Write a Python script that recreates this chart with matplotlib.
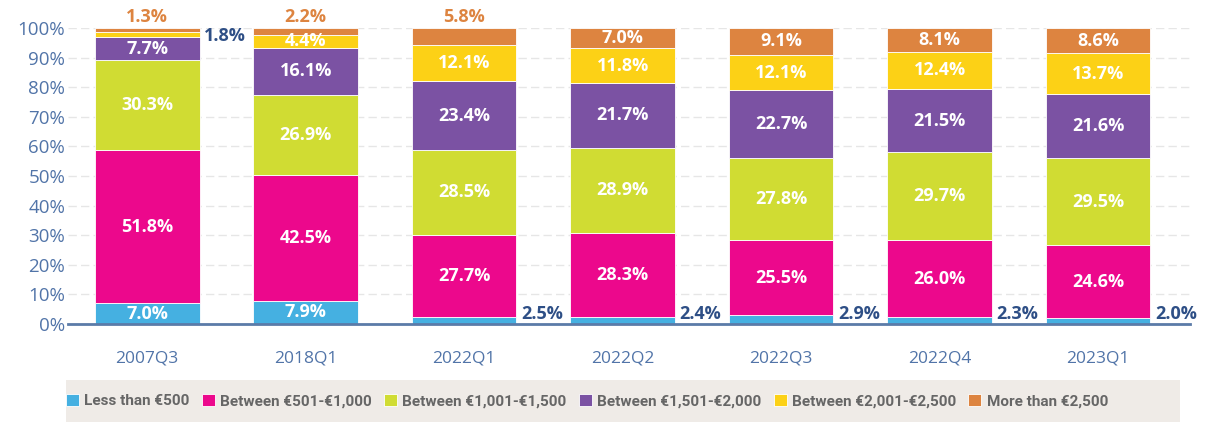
import numpy as np
import matplotlib.pyplot as plt
from matplotlib.patches import Rectangle

plt.rcParams['font.family'] = ['Open Sans', 'DejaVu Sans']

# quarters on the x axis
quarters = ['2007Q3', '2018Q1', '2022Q1', '2022Q2', '2022Q3', '2022Q4', '2023Q1']

# share of each band, bottom to top
less_500 = [7.0, 7.9, 2.5, 2.4, 2.9, 2.3, 2.0]
b501_1000 = [51.8, 42.5, 27.7, 28.3, 25.5, 26.0, 24.6]
b1001_1500 = [30.3, 26.9, 28.5, 28.9, 27.8, 29.7, 29.5]
b1501_2000 = [7.7, 16.1, 23.4, 21.7, 22.7, 21.5, 21.6]
b2001_2500 = [1.8, 4.4, 12.1, 11.8, 12.1, 12.4, 13.7]
more_2500 = [1.3, 2.2, 5.8, 7.0, 9.1, 8.1, 8.6]

series_names = ['Less than €500', 'Between €501-€1,000', 'Between €1,001-€1,500',
                'Between €1,501-€2,000', 'Between €2,001-€2,500', 'More than €2,500']
series = [less_500, b501_1000, b1001_1500, b1501_2000, b2001_2500, more_2500]
colors = ['#45B0E1', '#EC088C', '#D0DC33', '#7B52A3', '#FCD116', '#DD8440']

tick_col = '#5174A8'
dark_lab = '#2E4F86'

fig = plt.figure(figsize=(12.05, 4.23), dpi=100)
ax = fig.add_axes([68 / 1205, 1 - 324 / 423, 1122 / 1205, 296 / 423])

x = np.arange(len(quarters))
width = 0.66
bottom = np.zeros(len(quarters))
for vals, name, col in zip(series, series_names, colors):
    vals = np.array(vals)
    ax.bar(x, vals, width, bottom=bottom, color=col, label=name,
           edgecolor='white', linewidth=0.6, zorder=3)
    for i, v in enumerate(vals):
        mid = bottom[i] + v / 2
        top = bottom[i] + v
        if col == '#45B0E1' and v < 5:
            # small bottom values go to the right of the bar
            ax.text(x[i] + width / 2 + 0.03, 0.2, f'{v:.1f}%', color=dark_lab,
                    fontsize=13, fontweight='bold', ha='left', va='bottom', zorder=4)
        elif col == '#FCD116' and v < 3:
            ax.text(x[i] + width / 2 + 0.03, mid - 0.5, f'{v:.1f}%', color=dark_lab,
                    fontsize=13, fontweight='bold', ha='left', va='center', zorder=4)
        elif col == '#DD8440' and v < 6:
            ax.text(x[i], top + 0.8, f'{v:.1f}%', color=col, fontsize=13,
                    fontweight='bold', ha='center', va='bottom', clip_on=False, zorder=4)
        else:
            ax.text(x[i], mid, f'{v:.1f}%', color='white', fontsize=13,
                    fontweight='bold', ha='center', va='center', zorder=4)
    bottom = bottom + vals

ax.set_ylim(0, 100)
ax.set_xlim(-0.5, 6.58)
ax.set_yticks(np.arange(0, 101, 10))
ax.set_yticklabels([f'{t}%' for t in range(0, 101, 10)])
ax.set_xticks(x)
ax.set_xticklabels(quarters)
ax.tick_params(axis='both', length=0, colors=tick_col, labelsize=12.5)
ax.tick_params(axis='y', labelsize=13.5, pad=2)
ax.tick_params(axis='x', pad=19)
ax.yaxis.grid(True, color='#E6E6E6', linestyle=(0, (6, 3)), linewidth=1, zorder=0)
for s in ['top', 'right', 'left']:
    ax.spines[s].set_visible(False)
ax.spines['bottom'].set_color('#5B7BA8')
ax.spines['bottom'].set_linewidth(2)
ax.spines['bottom'].set_zorder(5)

# legend band
fig.patches.append(Rectangle((66 / 1205, 1 - 422 / 423), 1114 / 1205, 42 / 423,
                             transform=fig.transFigure, facecolor='#EFEBE7',
                             edgecolor='none', zorder=0))
leg = fig.legend(loc='center', bbox_to_anchor=(587 / 1205, 1 - 401 / 423), ncol=6,
                 frameon=False, handlelength=0.85, handleheight=0.85, handletextpad=0.35,
                 columnspacing=0.8, prop={'family': ['Roboto', 'Open Sans'],
                                          'weight': 'bold', 'size': 11})
for t in leg.get_texts():
    t.set_color('#666666')

fig.savefig('out.png', dpi=100)
